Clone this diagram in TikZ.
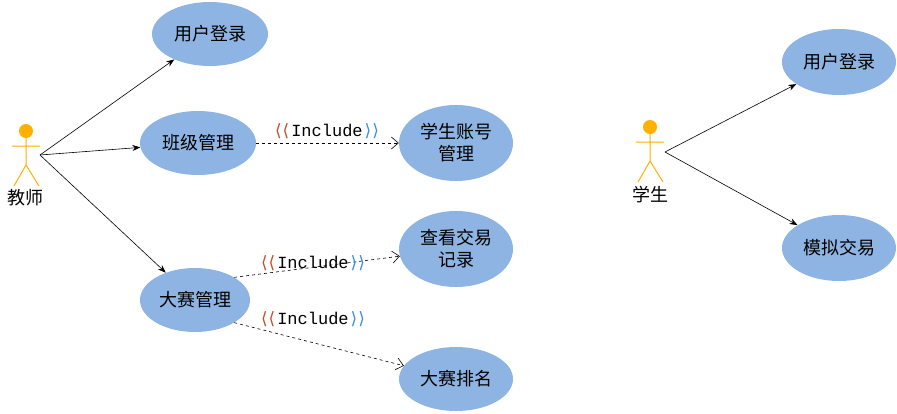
\documentclass[tikz,border=0pt]{standalone}
\usepackage{fontspec}
\setmainfont{Noto Sans CJK SC}
\newfontfamily\monof{Liberation Mono}
\newfontfamily\brf{DejaVu Sans}
\usetikzlibrary{arrows.meta,shapes.geometric}
\definecolor{uc}{HTML}{8DB4E2}
\definecolor{act}{HTML}{FFB000}
\definecolor{chl}{HTML}{C0502A}
\definecolor{chr}{HTML}{3A8FD8}
\tikzset{
 uc/.style={ellipse,fill=uc,minimum width=#1,font=\fontsize{18}{22}\selectfont,align=center,inner sep=0pt},
 assoc/.style={-{Stealth[length=8pt,width=6pt]},line width=0.6pt},
 incl/.style={dashed,-{Straight Barb[length=7pt,width=12pt]},line width=0.6pt},
 lbl/.style={font=\fontsize{17}{20}\selectfont,inner sep=0pt},
 actor/.style={draw=act,line width=1pt}
}
\newcommand{\incltext}{{\brf\color{chl}⟨\kern1pt⟨}\kern2pt{\monof Include}\kern2pt{\brf\color{chr}⟩\kern1pt⟩}}
\begin{document}
\begin{tikzpicture}[x=1pt,y=-1pt]
\useasboundingbox (0,0) rectangle (897,413);
% teacher actor
\fill[act] (26,131) circle (7);
\draw[actor] (26,138) -- (26,165) (12,146) -- (40,146) (14,186) -- (26,165) -- (39,186);
\node[font=\fontsize{18}{22}\selectfont] (t) at (26,198) {教师};
\coordinate (ta) at (40,155);
% student actor
\fill[act] (650,127) circle (7);
\draw[actor] (650,134) -- (650,161) (636,142) -- (664,142) (638,182) -- (650,161) -- (663,182);
\node[font=\fontsize{18}{22}\selectfont] (s) at (650,195) {学生};
\coordinate (sa) at (665,152);
% use cases
\node[uc=116pt,minimum height=64pt] (login1) at (210,34) {用户登录};
\node[uc=116pt,minimum height=64pt] (cls) at (198,143) {班级管理};
\node[uc=114pt,minimum height=76pt] (acc) at (456,143) {学生账号\\管理};
\node[uc=114pt,minimum height=76pt] (rec) at (456,249) {查看交易\\记录};
\node[uc=110pt,minimum height=64pt] (comp) at (195,300) {大赛管理};
\node[uc=114pt,minimum height=64pt] (rank) at (456,379) {大赛排名};
\node[uc=114pt,minimum height=66pt] (login2) at (839,62) {用户登录};
\node[uc=114pt,minimum height=66pt] (sim) at (839,248) {模拟交易};
% associations
\draw[assoc] (ta) -- (login1);
\draw[assoc] (ta) -- (cls);
\draw[assoc] (ta) -- (comp);
\draw[assoc] (sa) -- (login2);
\draw[assoc] (sa) -- (sim);
% includes
\draw[incl] (cls) -- (acc);
\draw[incl] (comp.30) -- (rec);
\draw[incl] (comp.-30) -- (rank);
\node[lbl] (l1) at (327,131) {\incltext};
\node[lbl] (l2) at (313,263) {\incltext};
\node[lbl] (l3) at (313,319) {\incltext};
\end{tikzpicture}
\end{document}
